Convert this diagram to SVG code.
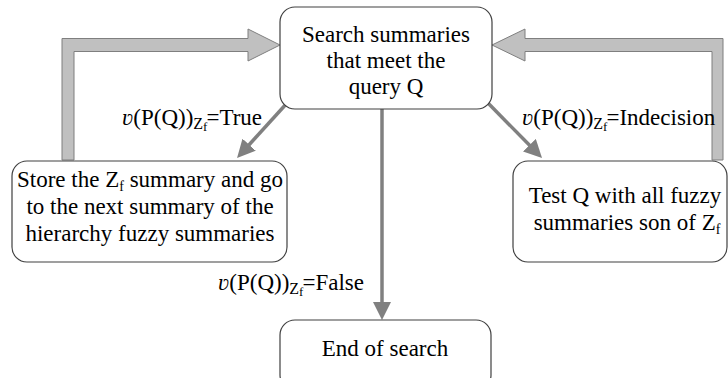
<svg xmlns="http://www.w3.org/2000/svg" width="728" height="378" viewBox="0 0 728 378">
<style>
.box{fill:#fff;stroke:#404040;stroke-width:1.2}
.fat{fill:#c0c0c0;stroke:#7f7f7f;stroke-width:1}
.thin{stroke:#808080;stroke-width:3.5;fill:none}
text{font-family:'Liberation Serif','DejaVu Serif',serif;font-size:23px;fill:#000}
.sym{font-style:italic}
</style>
<defs>
<marker id="ah" viewBox="0 0 18 18" refX="2" refY="9" markerWidth="18" markerHeight="18" markerUnits="userSpaceOnUse" orient="auto">
<path d="M0,0 L18,9 L0,18 z" fill="#808080"/>
</marker>
</defs>
<rect width="728" height="378" fill="#fff"/>
<g id="connectors">
<polygon class="fat" points="62,160 62,38.5 248,38.5 248,29 280,45 248,61 248,51.5 74,51.5 74,160"/>
<polygon class="fat" points="723,160 723,38.5 525,38.5 525,29 492,45 525,61 525,51.5 712,51.5 712,160"/>
<line class="thin" x1="288" y1="102" x2="247.8" y2="146.2" marker-end="url(#ah)"/>
<line class="thin" x1="488" y1="103" x2="530.8" y2="146.6" marker-end="url(#ah)"/>
<line class="thin" x1="382" y1="109" x2="382" y2="304" marker-end="url(#ah)"/>
<text x="122" y="125"><tspan class="sym">ʋ</tspan>(P(Q))<tspan font-size="16" dy="4">Z</tspan><tspan font-size="13" dy="2">f</tspan><tspan dy="-6" dx="-1">=True</tspan></text>
<text x="522" y="125"><tspan class="sym">ʋ</tspan>(P(Q))<tspan font-size="16" dy="4">Z</tspan><tspan font-size="13" dy="2">f</tspan><tspan dy="-6" dx="-1">=Indecision</tspan></text>
<text x="218" y="290"><tspan class="sym">ʋ</tspan>(P(Q))<tspan font-size="16" dy="4">Z</tspan><tspan font-size="13" dy="2">f</tspan><tspan dy="-6" dx="-1">=False</tspan></text>
</g>
<g id="search">
<rect class="box" x="280" y="7" width="212" height="102" rx="15"/>
<text text-anchor="middle" x="386" y="42">Search summaries</text>
<text text-anchor="middle" x="386" y="68">that meet the</text>
<text text-anchor="middle" x="386" y="94">query Q</text>
</g>
<g id="store">
<rect class="box" x="12" y="161" width="275" height="101" rx="15"/>
<text text-anchor="middle" x="150" y="187">Store the Z<tspan font-size="14" dy="4">f</tspan><tspan dy="-4"> summary and go</tspan></text>
<text text-anchor="middle" x="150" y="214">to the next summary of the</text>
<text text-anchor="middle" x="150" y="241">hierarchy fuzzy summaries</text>
</g>
<g id="test">
<rect class="box" x="513" y="161" width="214" height="101" rx="15"/>
<text text-anchor="middle" x="625" y="203">Test Q with all fuzzy</text>
<text text-anchor="middle" x="627" y="230">summaries son of Z<tspan font-size="14" dy="4">f</tspan></text>
</g>
<g id="end">
<rect class="box" x="280" y="320" width="211" height="70" rx="15"/>
<text text-anchor="middle" x="385" y="356">End of search</text>
</g>
</svg>
